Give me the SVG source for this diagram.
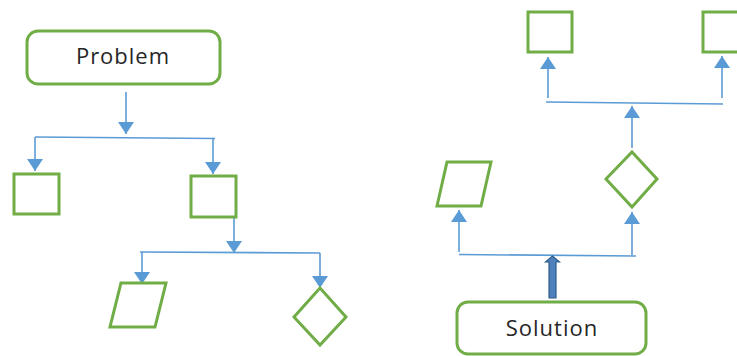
<svg xmlns="http://www.w3.org/2000/svg" width="737" height="356" viewBox="0 0 737 356">
<style>
.shape{fill:#fff;stroke:#70ad47;stroke-width:3}
.con{fill:none;stroke:#5b9bd5;stroke-width:1.6}
.lbl{font-family:"Open Sans","Liberation Sans",sans-serif;font-size:22px;fill:#262626;letter-spacing:1px;text-anchor:middle}
.block{fill:#4f81bd;stroke:#2f5d8c;stroke-width:1.2}
</style>
<defs>
<marker id="ah" markerUnits="userSpaceOnUse" markerWidth="13" markerHeight="16" viewBox="0 0 13 16" refX="12" refY="8" orient="auto">
<path d="M0,0 L12,8 L0,16 z" fill="#5b9bd5"/>
</marker>
</defs>
<rect width="737" height="356" fill="#fff"/>
<g id="connectors">
<path class="con" d="M126,92 V134" marker-end="url(#ah)"/>
<path class="con" d="M35,137 L215,138.5"/>
<path class="con" d="M35,137 V171" marker-end="url(#ah)"/>
<path class="con" d="M213,138.3 V174" marker-end="url(#ah)"/>
<path class="con" d="M234,217 V253" marker-end="url(#ah)"/>
<path class="con" d="M140,252 L320,253"/>
<path class="con" d="M142,252 V284" marker-end="url(#ah)"/>
<path class="con" d="M320,253 V288" marker-end="url(#ah)"/>
<path class="con" d="M459,252 V210" marker-end="url(#ah)"/>
<path class="con" d="M632,255 V212" marker-end="url(#ah)"/>
<path class="con" d="M459,254.5 L636,256"/>
<path class="con" d="M632,148 V106" marker-end="url(#ah)"/>
<path class="con" d="M546,102 L723,104"/>
<path class="con" d="M548,98 V57" marker-end="url(#ah)"/>
<path class="con" d="M722,98 V56" marker-end="url(#ah)"/>
<polygon class="block" points="549,298 549,262 545.5,262 552.5,256 559.5,262 556,262 556,298"/>
</g>
<g id="problem">
<rect class="shape" x="27" y="31" width="193" height="53" rx="11"/>
<text class="lbl" x="123" y="64">Problem</text>
</g>
<g id="box-left"><rect class="shape" x="14" y="174" width="45" height="40"/></g>
<g id="box-mid"><rect class="shape" x="191" y="176" width="45" height="41"/></g>
<g id="para-left"><polygon class="shape" points="121,283 166,283 155,327 110,327"/></g>
<g id="diamond-left"><polygon class="shape" points="320,288 346,317 320,345 294,317"/></g>
<g id="box-top-left"><rect class="shape" x="528" y="12" width="44" height="40"/></g>
<g id="box-top-right"><rect class="shape" x="703" y="12" width="44" height="40"/></g>
<g id="diamond-right"><polygon class="shape" points="632,152 657,179 632,207 606,179"/></g>
<g id="para-right"><polygon class="shape" points="447,162 491,162 481,206 437,206"/></g>
<g id="solution">
<rect class="shape" x="457" y="302" width="189" height="52" rx="11"/>
<text class="lbl" x="552" y="336">Solution</text>
</g>
</svg>
